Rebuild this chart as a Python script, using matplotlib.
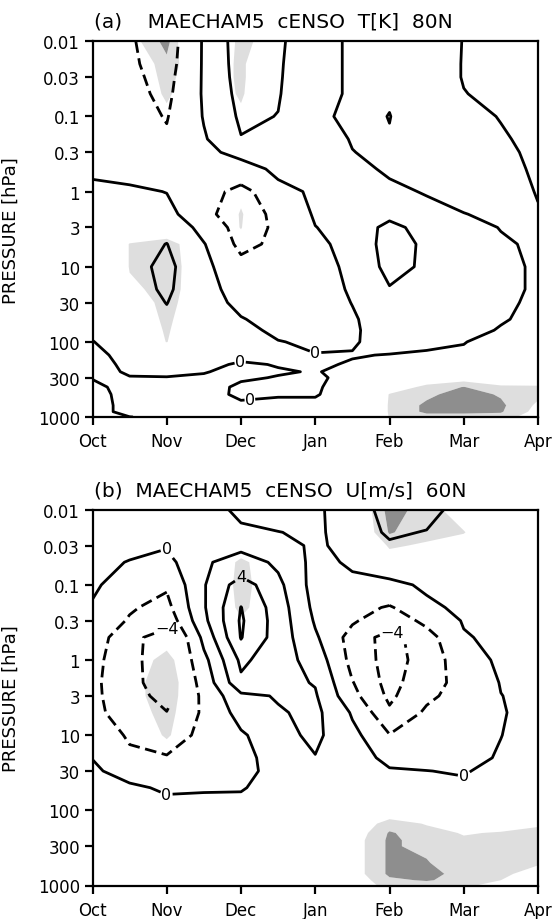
import numpy as np
import matplotlib
matplotlib.use("Agg")
import matplotlib.pyplot as plt
from matplotlib.ticker import FixedLocator, NullLocator

plt.rcParams['font.family'] = ['DejaVu Sans']

# ---------------- data ----------------
# time axis: months after 1 October (grid every half month)
month_pos = [0, 0.5, 1, 1.5, 2, 2.5, 3, 3.5, 4, 4.5, 5, 5.5, 6]
month_ticks = [0, 1, 2, 3, 4, 5, 6]
month_labels = ['Oct', 'Nov', 'Dec', 'Jan', 'Feb', 'Mar', 'Apr']

# pressure levels (hPa), top to bottom
pressure = [0.01, 0.02, 0.03, 0.05, 0.1, 0.2, 0.3, 0.5, 1, 2, 3, 5, 10, 20, 30,
            50, 70, 100, 150, 200, 250, 300, 400, 500, 700, 850, 1000]
p_ticks = [0.01, 0.03, 0.1, 0.3, 1, 3, 10, 30, 100, 300, 1000]
p_tick_labels = ['0.01', '0.03', '0.1', '0.3', '1', '3', '10', '30', '100', '300', '1000']

# (a) temperature anomaly at 80N [K]; one list per month column (top -> bottom)
t_columns = [
    [-0.6, -0.6, -0.6, -0.6, -0.5, -0.4, -0.3, -0.12, 0.2, 0.3, 0.35, 0.4, 0.4, 0.35, 0.3, 0.25, 0.12, -0.02, -0.2, -0.25, -0.15, -0.02, 0.1, 0.2, 0.25, 0.25, 0.25],
    [-0.9, -0.85, -0.8, -0.75, -0.65, -0.5, -0.4, -0.25, 0.15, 0.35, 0.5, 0.6, 0.65, 0.6, 0.55, 0.45, 0.4, 0.35, 0.25, 0.15, 0.05, -0.02, -0.15, -0.2, -0.2, -0.2, 0.01],
    [-1.5, -1.4, -1.3, -1.2, -1.05, -0.85, -0.65, -0.4, -0.02, 0.35, 0.7, 1.02, 1.25, 1.15, 1.02, 0.8, 0.65, 0.5, 0.35, 0.2, 0.1, -0.02, -0.15, -0.2, -0.2, -0.15, -0.1],
    [0.1, 0.1, 0.1, 0.1, 0.05, -0.1, -0.25, -0.35, -0.6, -0.8, -0.3, 0.05, 0.21, 0.3, 0.35, 0.35, 0.33, 0.3, 0.2, 0.1, 0.02, -0.05, -0.18, -0.2, -0.2, -0.2, -0.2],
    [1.5, 1.45, 1.4, 1.3, 1.15, 0.95, 0.3, -0.5, -1.3, -1.4, -1.4, -1.25, -0.6, -0.35, -0.2, 0.05, 0.2, 0.3, 0.1, -0.05, -0.1, -0.05, 0.08, 0.1, -0.1, -0.2, -0.2],
    [1.15, 1.1, 1.08, 1.05, 0.98, 0.7, 0.5, 0.25, -0.4, -0.8, -0.85, -0.8, -0.6, -0.5, -0.4, -0.3, -0.15, 0.03, 0.1, 0.02, -0.03, 0.02, 0.05, 0.03, -0.1, -0.15, -0.2],
    [0.4, 0.4, 0.4, 0.4, 0.4, 0.4, 0.35, 0.3, 0.2, 0.1, -0.02, -0.2, -0.35, -0.4, -0.4, -0.35, -0.25, -0.12, 0.03, 0.08, 0.02, 0.08, 0.05, 0.03, -0.1, -0.2, -0.2],
    [-0.15, -0.15, -0.15, -0.15, -0.4, -0.05, 0.02, 0.15, 0.3, 0.35, 0.35, 0.3, 0.2, 0.1, 0.02, -0.1, -0.1, -0.05, 0.03, -0.05, -0.1, -0.15, -0.2, -0.2, -0.2, -0.2, -0.2],
    [-0.3, -0.3, -0.3, -0.1, 0.03, -0.1, -0.2, -0.08, 0.15, 0.75, 1.3, 1.4, 1.3, 0.92, 0.7, 0.5, 0.35, 0.2, -0.02, -0.15, -0.2, -0.2, -0.25, -0.25, -0.2, -0.2, -0.2],
    [-0.35, -0.35, -0.35, -0.35, -0.8, -0.3, -0.25, -0.2, -0.05, 0.3, 0.6, 0.84, 0.85, 0.75, 0.65, 0.5, 0.35, 0.12, -0.08, -0.2, -0.25, -0.25, -0.25, -0.25, -0.25, -0.25, -0.25],
    [0.02, 0.03, 0.03, -0.02, -0.2, -0.3, -0.3, -0.3, -0.2, 0.02, 0.2, 0.35, 0.45, 0.45, 0.4, 0.3, 0.18, 0.02, -0.1, -0.2, -0.25, -0.25, -0.25, -0.25, -0.25, -0.25, -0.25],
    [0.35, 0.3, 0.25, 0.15, 0.03, -0.1, -0.2, -0.25, -0.25, -0.15, -0.02, 0.08, 0.15, 0.15, 0.1, 0.04, -0.04, -0.2, -0.2, -0.2, -0.2, -0.2, -0.2, -0.2, -0.2, -0.2, -0.2],
    [0.6, 0.55, 0.5, 0.45, 0.35, 0.25, 0.2, 0.12, 0.03, -0.05, -0.1, -0.1, -0.08, -0.08, -0.1, -0.12, -0.15, -0.15, -0.15, -0.15, -0.15, -0.15, -0.15, -0.15, -0.15, -0.15, -0.15],
]

# (a) confidence level of the temperature anomaly [%]
t_conf_columns = [
    [70] * 27,
    [87, 84, 84, 84, 80, 75, 72, 70, 70, 75, 82, 90.5, 90.5, 88, 86, 84, 82, 80, 75, 70, 70, 70, 70, 70, 70, 70, 70],
    [97, 93, 92, 91, 88, 80, 75, 72, 72, 78, 85, 93, 94, 93, 92, 91.5, 91, 90.3, 80, 72, 70, 70, 70, 70, 70, 70, 70],
    [74, 84, 84, 84, 80, 75, 72, 72, 75, 75, 78, 84.2, 84, 85, 85.3, 83, 81, 78, 72, 70, 70, 70, 70, 70, 70, 70, 70],
    [93, 91.5, 91.5, 91, 88, 80, 75, 75, 88, 91, 90.5, 85, 75, 72, 70, 70, 70, 70, 70, 70, 70, 70, 70, 70, 70, 70, 70],
    [84, 80, 80, 80, 78, 72, 72, 72, 72, 75, 72, 72, 72, 72, 72, 72, 72, 72, 72, 72, 72, 72, 72, 72, 72, 72, 72],
    [70] * 27,
    [70] * 27,
    [70] * 21 + [75, 85, 90.5, 91, 91, 90.5],
    [70] * 20 + [75, 85, 92, 94, 96, 96, 93],
    [70] * 20 + [78, 87, 95.2, 97, 97, 96, 93],
    [70] * 20 + [76, 86, 91, 94.5, 96, 95.5, 93],
    [70] * 20 + [75, 85, 91, 91, 89, 88, 86],
]

# (b) zonal wind anomaly at 60N [m/s]
u_columns = [
    [1.0, 0.9, 0.8, 0.6, 0.25, -0.2, -0.5, -0.9, -1.3, -1.5, -1.5, -1.4, -1.0, -0.05, 0.4, 0.6, 0.6, 0.6, 0.6, 0.6, 0.6, 0.6, 0.6, 0.6, 0.6, 0.6, 0.6],
    [1.2, 1.0, 0.5, -0.1, -0.8, -1.8, -2.2, -3.4, -3.6, -3.6, -3.4, -3.1, -2.2, -1.6, -1.0, 0.5, 0.7, 0.7, 0.7, 0.7, 0.7, 0.7, 0.7, 0.7, 0.7, 0.7, 0.7],
    [1.3, 0.9, 0.1, -0.6, -1.8, -2.6, -3.4, -5.0, -4.8, -4.7, -4.5, -3.95, -3.0, -1.8, -1.2, -0.4, 0.3, 0.6, 0.6, 0.6, 0.6, 0.6, 0.6, 0.6, 0.6, 0.6, 0.6],
    [1.2, 1.4, 1.6, 1.75, 1.85, 1.8, 1.5, 0.5, -0.6, -1.3, -1.6, -1.7, -1.5, -1.0, -0.7, -0.2, 0.3, 0.6, 0.6, 0.6, 0.6, 0.6, 0.6, 0.6, 0.6, 0.6, 0.6],
    [-0.6, 0.6, 1.6, 2.8, 5.0, 6.05, 6.25, 6.1, 4.4, 3.5, 1.5, 0.7, -0.3, -0.8, -0.8, -0.15, 0.3, 0.6, 0.6, 0.6, 0.6, 0.6, 0.6, 0.6, 0.6, 0.6, 0.6],
    [-0.8, 0.05, 0.9, 1.7, 2.5, 3.0, 3.1, 3.1, 2.9, 2.5, 2.15, 1.8, 1.4, 1.1, 0.9, 0.8, 0.7, 0.6, 0.6, 0.6, 0.6, 0.6, 0.6, 0.6, 0.6, 0.6, 0.6],
    [-0.3, -0.35, -0.4, -0.6, -0.8, -0.5, -0.2, 0.3, 1.2, 1.9, 2.2, 2.5, 2.4, 1.9, 1.4, 1.0, 0.8, 0.8, 0.8, 0.8, 0.8, 0.8, 0.8, 0.8, 0.8, 0.8, 0.8],
    [0.9, 0.9, 0.8, 0.3, -0.6, -1.3, -1.8, -2.8, -2.6, -1.9, -1.4, -0.2, 0.6, 0.9, 1.0, 0.9, 0.8, 0.8, 0.8, 0.8, 0.8, 0.8, 0.8, 0.8, 0.8, 0.8, 0.8],
    [2.8, 2.3, 1.7, 1.0, -0.5, -2.2, -3.0, -4.8, -4.8, -4.7, -4.4, -3.6, -1.9, -0.5, 0.2, 0.6, 0.7, 0.7, 0.7, 0.7, 0.7, 0.7, 0.7, 0.7, 0.7, 0.7, 0.7],
    [2.6, 1.9, 1.5, 1.1, 0.3, -0.5, -1.6, -2.8, -3.2, -2.7, -2.3, -1.7, -1.0, -0.4, 0.02, 0.5, 0.7, 0.7, 0.7, 0.7, 0.7, 0.7, 0.7, 0.7, 0.7, 0.7, 0.7],
    [1.3, 1.5, 1.4, 1.3, 1.0, 0.5, 0.15, -0.2, -0.8, -1.4, -1.4, -1.2, -0.9, -0.5, -0.1, 0.3, 0.6, 0.7, 0.7, 0.7, 0.7, 0.7, 0.7, 0.7, 0.7, 0.7, 0.7],
    [1.8, 1.7, 1.6, 1.5, 1.3, 1.0, 0.8, 0.55, 0.3, 0.08, -0.03, -0.08, -0.02, 0.15, 0.4, 0.6, 0.7, 0.7, 0.7, 0.7, 0.7, 0.7, 0.7, 0.7, 0.7, 0.7, 0.7],
    [1.9, 1.85, 1.8, 1.7, 1.5, 1.3, 1.1, 0.9, 0.7, 0.55, 0.5, 0.4, 0.5, 0.6, 0.7, 0.7, 0.7, 0.7, 0.7, 0.7, 0.7, 0.7, 0.7, 0.7, 0.7, 0.7, 0.7],
]

# (b) confidence level of the wind anomaly [%]
u_conf_columns = [
    [70] * 27,
    [70, 70, 70, 70, 70, 70, 70, 80, 86.4, 87.1, 87, 85.5, 80, 75] + [70] * 13,
    [70, 70, 70, 70, 70, 70, 80, 88, 92, 94, 94, 93, 91.5, 80, 72] + [70] * 12,
    [70, 70, 72, 79, 79, 79, 79, 78, 82, 81.5, 81, 80.5, 78, 72] + [70] * 13,
    [70, 70, 85, 92, 93, 92, 89, 80, 75] + [70] * 18,
    [70, 70, 75, 83, 83, 83, 80, 75] + [70] * 19,
    [70] * 27,
    [82.4, 82, 78, 72] + [70] * 13 + [80, 84, 86, 87, 87, 87, 87, 87, 86, 86],
    [97, 95.5, 91, 85, 75] + [70] * 11 + [80, 85, 93, 95.5, 96, 96, 96, 96, 96, 94, 92],
    [93, 92, 89, 82, 75] + [70] * 11 + [78, 84, 89.5, 92.5, 93, 93, 94.8, 95.3, 96, 95.5, 92],
    [86, 90.5, 85, 78] + [70] * 13 + [80, 86, 89.5, 91, 92, 92.5, 92.3, 93.9, 93, 91],
    [72, 80, 72] + [70] * 14 + [80, 87, 90.5, 92, 92, 92, 91.5, 91, 90, 88],
    [70] * 17 + [87, 89.5, 91, 92, 92, 91.5, 90.5, 88, 85, 83],
]

t_levels = [-1, 0, 1]
u_levels = [-4, -2, 0, 2, 4, 6]
conf_levels = [90, 95, 101]
conf_colors = ['#dedede', '#8e8e8e']

# label texts and positions (month, hPa) for each labelled contour level
t_label_text = {0: '0'}
t_label_pos = {0: [(3.0, 140), (2.0, 190), (2.1, 580)]}
u_label_text = {-4: '\u22124', 0: '0', 4: '4'}
u_label_pos = {-4: [(1.0, 0.37), (4.04, 0.42)],
               0: [(1.0, 0.033), (1.0, 59), (5.0, 33)],
               4: [(2.0, 0.068)]}

# ---------------- figure ----------------
W, H = 557, 920
fig = plt.figure(figsize=(W / 100, H / 100), dpi=100)

def px_axes(left, top, right, bottom):
    return fig.add_axes([left / W, 1 - bottom / H, (right - left) / W, (bottom - top) / H])

ax_a = px_axes(92.5, 42.3, 538, 418)
ax_b = px_axes(92.5, 510.7, 538, 886.5)

X, P = np.meshgrid(month_pos, pressure)
dash = (0, (4.2, 2.0))

def draw(ax, cols, conf_cols, levels, label_text, label_pos):
    Z = np.array(cols, dtype=float).T
    C = np.array(conf_cols, dtype=float).T
    ax.contourf(X, P, C, levels=conf_levels, colors=conf_colors, antialiased=True)
    for lev in levels:
        style = 'solid' if lev >= 0 else dash
        cs = ax.contour(X, P, Z, levels=[lev], colors='k', linewidths=2.0,
                        linestyles=[style])
        if lev in label_text:
            texts = ax.clabel(cs, manual=label_pos[lev], fmt={lev: label_text[lev]},
                              inline=True, inline_spacing=1, fontsize=11.5)
            for t in texts:
                t.set_rotation(0)
    ax.set_yscale('log')
    ax.set_ylim(1000, 0.01)
    ax.set_xlim(0, 6)
    ax.yaxis.set_major_locator(FixedLocator(p_ticks))
    ax.yaxis.set_minor_locator(NullLocator())
    ax.set_yticklabels(p_tick_labels)
    ax.set_xticks(month_ticks)
    ax.set_xticklabels(month_labels)
    ax.tick_params(axis='both', direction='out', length=6, width=1.6,
                   labelsize=12, pad=3)
    ax.tick_params(axis='x', pad=5)
    for s in ax.spines.values():
        s.set_linewidth(1.6)
    ax.set_ylabel('PRESSURE [hPa]', fontsize=13)
    ax.yaxis.set_label_coords(-0.163, 0.5)

draw(ax_a, t_columns, t_conf_columns, t_levels, t_label_text, t_label_pos)
draw(ax_b, u_columns, u_conf_columns, u_levels, u_label_text, u_label_pos)

fig.text(94 / W, 1 - 22 / H, '(a)    MAECHAM5  cENSO  T[K]  80N', fontsize=14.5,
         ha='left', va='center')
fig.text(94 / W, 1 - 491 / H, '(b)  MAECHAM5  cENSO  U[m/s]  60N', fontsize=14.5,
         ha='left', va='center')

fig.savefig('out.png', dpi=100)
